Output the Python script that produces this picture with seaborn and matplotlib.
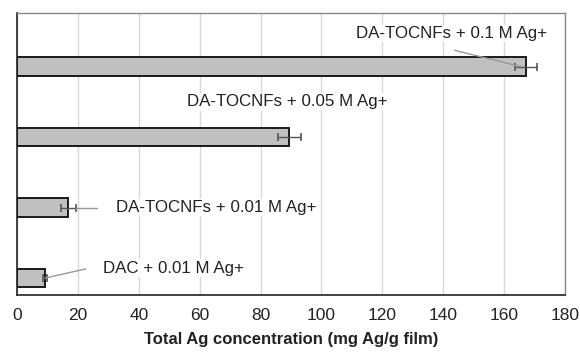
import matplotlib
matplotlib.use("Agg")
import matplotlib.pyplot as plt
import seaborn as sns
import pandas as pd

# Samples, top to bottom
samples = ["DA-TOCNFs + 0.1 M Ag+", "DA-TOCNFs + 0.05 M Ag+",
           "DA-TOCNFs + 0.01 M Ag+", "DAC + 0.01 M Ag+"]
ag_total = [167.2, 89.5, 16.9, 9.2]
ag_err = [3.7, 3.7, 2.4, 0.5]
x_ticks = [0, 20, 40, 60, 80, 100, 120, 140, 160, 180]

df = pd.DataFrame({"sample": samples, "ag": ag_total})

sns.set_theme(style="white")
plt.rcParams["font.family"] = ["Liberation Sans", "DejaVu Sans"]

fig = plt.figure(figsize=(5.8, 3.53), dpi=100)
ax = fig.add_axes([17 / 580, 1 - 295 / 353, 548 / 580, 282 / 353])

sns.barplot(data=df, x="ag", y="sample", orient="h", width=0.26,
            color="#c0c0c0", edgecolor="#1a1a1a", linewidth=1.4,
            saturation=1, ax=ax, zorder=3)

ypos = list(range(len(samples)))
ax.errorbar(ag_total, ypos, xerr=ag_err, fmt="none", ecolor="#555555",
            elinewidth=1.0, capsize=3, capthick=1.2, zorder=4)

ax.set_xlim(0, 180)
ax.set_ylim(3.24, -0.76)
ax.set_xticks(x_ticks)
ax.set_xticklabels([str(t) for t in x_ticks], fontsize=12.5, color="#222222")
ax.tick_params(axis="x", length=0, pad=9)
ax.set_yticks([])
ax.set_ylabel("")
ax.set_xlabel("Total Ag concentration (mg Ag/g film)", fontsize=12,
              fontweight="bold", color="#222222", labelpad=7)

ax.grid(axis="x", color="#d9d9d9", linewidth=1.0, zorder=0)
ax.set_axisbelow(True)

for side in ["top", "right"]:
    ax.spines[side].set_color("#888888")
    ax.spines[side].set_linewidth(1.0)
for side in ["left", "bottom"]:
    ax.spines[side].set_color("#333333")
    ax.spines[side].set_linewidth(1.3)

# Callout labels with leader lines: (text x, text y, line start, line end)
callouts = [
    (111.5, -0.47, (143.8, -0.23), (165.5, 0.0)),
    (56.0, 0.5, None, None),
    (32.5, 2.0, (19.3, 2.0), (26.3, 2.0)),
    (28.2, 2.86, (22.6, 2.87), (9.2, 3.0)),
]
for (tx, ty, p0, p1), lab in zip(callouts, samples):
    if p0 is not None:
        ax.plot([p0[0], p1[0]], [p0[1], p1[1]], color="#999999",
                linewidth=1.0, zorder=5)
    ax.text(tx, ty, lab, fontsize=12.2, color="#222222", va="center",
            ha="left", zorder=6,
            bbox=dict(facecolor="white", edgecolor="none", pad=1.0))

fig.savefig("out.png", dpi=100)
